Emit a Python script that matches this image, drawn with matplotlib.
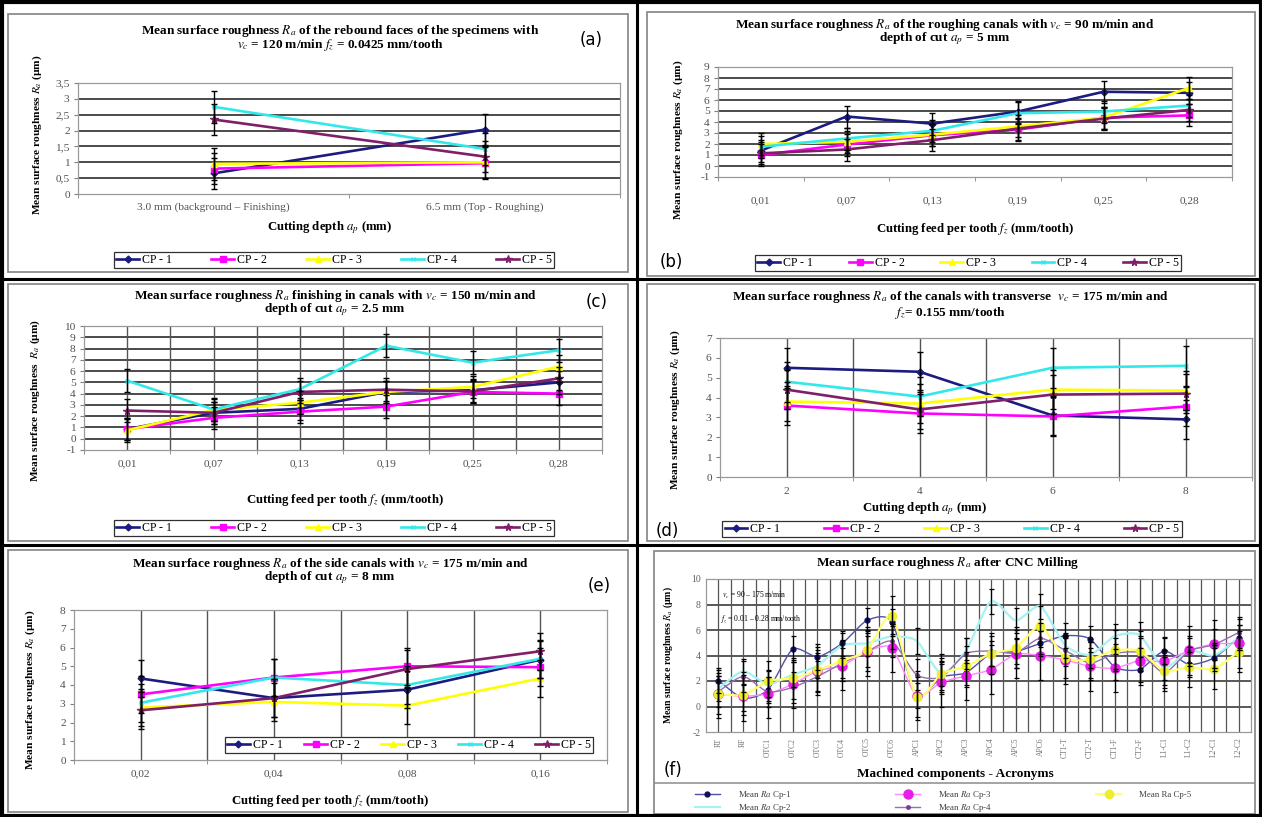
import numpy as np
import matplotlib
matplotlib.use("Agg")
import matplotlib.pyplot as plt
from matplotlib.lines import Line2D
from matplotlib.patches import Rectangle

plt.rcParams['font.family'] = ['Liberation Serif', 'DejaVu Serif']
plt.rcParams['mathtext.fontset'] = 'stix'

# ---------------- DATA ----------------
series_names = ['CP - 1', 'CP - 2', 'CP - 3', 'CP - 4', 'CP - 5']

cats_a = ['3.0 mm (background \u2013 Finishing)', '6.5 mm (Top - Roughing)']
ra_a = [[0.65, 2.03], [0.80, 0.97], [0.95, 1.00], [2.75, 1.42], [2.35, 1.18]]
err_a = [0.5, 0.5, 0.5, 0.5, 0.5]

cats_b = ['0,01', '0,07', '0,13', '0,19', '0,25', '0,28']
ra_b = [[1.40, 4.50, 3.85, 4.95, 6.75, 6.65],
        [1.00, 1.95, 2.80, 3.30, 4.40, 4.60],
        [2.00, 2.20, 2.85, 3.60, 4.40, 7.10],
        [1.75, 2.50, 3.20, 4.80, 4.95, 5.50],
        [1.15, 1.50, 2.35, 3.40, 4.30, 5.10]]
err_b = [1.0, 1.0, 1.0, 1.0, 1.0]

cats_c = ['0,01', '0,07', '0,13', '0,19', '0,25', '0,28']
ra_c = [[0.85, 2.30, 2.65, 4.15, 4.30, 5.00],
        [0.85, 1.85, 2.40, 2.85, 4.15, 4.00],
        [0.75, 2.55, 3.20, 4.15, 4.60, 6.40],
        [5.15, 2.60, 4.40, 8.25, 6.75, 7.85],
        [2.50, 2.30, 4.15, 4.35, 4.20, 5.35]]
err_c = [1.0, 1.0, 1.0, 1.0, 1.0]

cats_d = ['2', '4', '6', '8']
ra_d = [[5.50, 5.30, 3.10, 2.90],
        [3.60, 3.20, 3.05, 3.55],
        [3.80, 3.70, 4.40, 4.35],
        [4.80, 4.05, 5.50, 5.60],
        [4.40, 3.40, 4.15, 4.20]]
err_d = [1.0, 1.0, 1.0, 1.0, 1.0]

cats_e = ['0,02', '0,04', '0,08', '0,16']
ra_e = [[4.35, 3.30, 3.75, 5.35],
        [3.50, 4.40, 5.00, 4.95],
        [2.80, 3.10, 2.90, 4.35],
        [3.05, 4.40, 4.00, 5.40],
        [2.65, 3.30, 4.85, 5.80]]
err_e = [1.0, 1.0, 1.0, 1.0, 1.0]

cats_f = ['RT', 'RF', 'OTC1', 'OTC2', 'OTC3', 'OTC4', 'OTC5', 'OTC6',
          'APC1', 'APC2', 'APC3', 'APC4', 'APC5', 'APC6',
          'CT1-T', 'CT2-T', 'CT1-F', 'CT2-F', 'L1-C1', 'L1-C2', 'L2-C1', 'L2-C2']
f_names = ['Mean $Ra$ Cp-1', 'Mean $Ra$ Cp-2', 'Mean $Ra$ Cp-3', 'Mean $Ra$ Cp-4', 'Mean Ra Cp-5']
f_cp1 = [2.03, 0.65, 1.30, 4.50, 3.90, 4.95, 6.75, 6.65, 0.85, 2.30, 2.65, 4.15, 4.30, 4.95,
         5.55, 5.30, 3.10, 2.90, 4.35, 3.30, 3.80, 5.40]
f_cp2 = [1.42, 2.75, 1.75, 2.50, 3.20, 4.80, 4.95, 5.50, 5.15, 2.60, 4.40, 8.25, 6.75, 7.85,
         4.80, 4.05, 5.50, 5.60, 3.05, 4.40, 4.00, 5.40]
f_cp3 = [0.97, 0.80, 1.00, 1.75, 2.80, 3.20, 4.30, 4.60, 0.85, 1.90, 2.40, 2.90, 4.10, 4.00,
         3.65, 3.15, 3.00, 3.60, 3.55, 4.40, 4.90, 4.95]
f_cp4 = [1.18, 2.35, 1.15, 1.50, 2.35, 3.40, 4.30, 5.10, 2.50, 2.30, 4.15, 4.35, 4.20, 5.35,
         4.40, 3.40, 4.15, 4.20, 2.65, 4.35, 4.85, 5.80]
f_cp5 = [1.00, 0.90, 2.00, 2.20, 2.85, 3.60, 4.40, 7.10, 0.75, 2.55, 3.15, 4.15, 4.60, 6.30,
         3.80, 3.70, 4.40, 4.35, 2.80, 3.10, 2.95, 4.30]
err_f = [1.0, 1.0, 1.9, 1.2, 1.6]

# ---------------- STYLE ----------------
W, H = 1262, 817
fig = plt.figure(figsize=(W / 100, H / 100), dpi=100)
fig.patch.set_facecolor('white')

cols = ['#1c1c80', '#ff00ff', '#ffff00', '#33e8e8', '#7f1f6a']
marks = ['D', 's', '^', 'x', '*']
msz = [3.5, 4.5, 4.5, 3.5, 5.5]
GRID = '#3c3c3c'
VGRID = '#555555'
TICKC = '#505050'
FS = 8.2      # tick labels
TFS = 9.5     # titles
LFS = 9.2     # axis labels
GFS = 8.6     # legend


def fx(x):
    return x / W


def fy(y):
    return 1 - y / H


def add_ax(x0, y0, x1, y1):
    return fig.add_axes([x0 / W, 1 - y1 / H, (x1 - x0) / W, (y1 - y0) / H])


def fline(x0, y0, x1, y1, lw=2.2, color='black'):
    fig.add_artist(Line2D([fx(x0), fx(x1)], [fy(y0), fy(y1)], transform=fig.transFigure,
                          color=color, lw=lw, solid_capstyle='butt'))


def fbox(x0, y0, x1, y1, color='#8c8c8c', lw=1.3):
    fig.add_artist(Rectangle((fx(x0), fy(y1)), (x1 - x0) / W, (y1 - y0) / H,
                             transform=fig.transFigure, fill=False, edgecolor=color, lw=lw))


def ftext(x, y, s, size=FS, bold=False, rot=0, ha='center', va='center', family=None, color='black'):
    kw = dict(fontsize=size, fontweight='bold' if bold else 'normal', rotation=rot,
              ha=ha, va=va, color=color)
    if family:
        kw['family'] = family
    fig.text(fx(x), fy(y), s, **kw)


def fmt(v):
    return ('%g' % v).replace('.', ',')


def panel(box, cats, data, errs, ylim, ystep, hgrid, vgrid, pad, legend_xy, colsp):
    ax = add_ax(*box)
    n = len(cats)
    x = np.arange(n)
    ax.set_xlim(-0.5, n - 0.5)
    ax.set_ylim(*ylim)
    yt = np.arange(ylim[0], ylim[1] + 1e-9, ystep)
    ax.set_yticks(yt)
    ax.set_yticklabels([fmt(v) for v in yt])
    ax.set_xticks(x)
    ax.set_xticklabels(cats)
    ax.set_xticks(np.arange(-0.5, n, 1.0), minor=True)
    ax.tick_params(axis='x', which='major', length=0, pad=pad, labelsize=FS, colors=TICKC)
    ax.tick_params(axis='x', which='minor', length=3, color='#808080', direction='out')
    ax.tick_params(axis='y', length=3, color='#808080', labelsize=FS, colors=TICKC, pad=3)
    for sp in ax.spines.values():
        sp.set_color('#9a9a9a')
        sp.set_linewidth(0.9)
    if hgrid:
        for v in yt[1:-1]:
            ax.axhline(v, color=GRID, lw=1.3, zorder=0.5)
    if vgrid:
        for v in np.arange(-0.5, n, 0.5)[1:-1]:
            ax.axvline(v, color=VGRID, lw=1.0, zorder=0.5)
    handles = []
    for i in range(5):
        h, = ax.plot(x, data[i], color=cols[i], lw=1.9, marker=marks[i], ms=msz[i],
                     mec=cols[i], mfc=cols[i], zorder=3, label=series_names[i])
        handles.append(h)
    for i in range(5):
        ax.errorbar(x, data[i], yerr=errs[i], fmt='none', ecolor='black', elinewidth=1.0,
                    capsize=2.3, capthick=1.0, zorder=4)
    lx, ly = legend_xy
    leg = fig.legend(handles=handles, loc='center', bbox_to_anchor=(fx(lx), fy(ly)),
                     ncol=5, frameon=True, fancybox=False, edgecolor='#303030',
                     fontsize=GFS, handlelength=1.9, handletextpad=0.25,
                     columnspacing=colsp, borderpad=0.2, framealpha=1)
    leg.get_frame().set_linewidth(0.9)
    return ax


# ---------------- FRAME ----------------
fline(0, 1.5, W, 1.5, lw=3)
fline(0, H - 1.5, W, H - 1.5, lw=3)
fline(1.5, 0, 1.5, H, lw=3)
fline(W - 1.5, 0, W - 1.5, H, lw=3)
fline(637, 0, 637, H, lw=2.2)
fline(0, 279, W, 279, lw=2.2)
fline(0, 545, W, 545, lw=2.2)

fbox(8, 14, 628, 272)
fbox(647, 12, 1255, 276)
fbox(8, 284, 628, 541)
fbox(647, 284, 1255, 541)
fbox(8, 550, 628, 812)
fbox(654, 551, 1255, 814)

# ---------------- PANEL (a) ----------------
panel((78, 83, 620, 194), cats_a, ra_a, err_a, (0, 3.5), 0.5, True, False, 6, (334, 260), 3.3)
ftext(340, 31, 'Mean surface roughness $R_a$ of the rebound faces of the specimens with', size=TFS, bold=True)
ftext(340, 45, '$v_c$ = 120 m/min $f_z$ = 0.0425 mm/tooth', size=TFS, bold=True)
ftext(591, 40, '(a)', size=12, family='DejaVu Sans')
ftext(37, 135, 'Mean surface roughness $R_a$ (\u00b5m)', size=8.2, bold=True, rot=90)
ftext(330, 228, 'Cutting depth $a_p$ (mm)', size=LFS, bold=True)

# ---------------- PANEL (b) ----------------
panel((718, 67, 1232, 177), cats_b, ra_b, err_b, (-1, 9), 1, True, False, 14, (968, 263), 3.0)
ftext(945, 25, 'Mean surface roughness $R_a$ of the roughing canals with $v_c$ = 90 m/min and', size=TFS, bold=True)
ftext(945, 39, 'depth of cut $a_p$ = 5 mm', size=TFS, bold=True)
ftext(671, 262, '(b)', size=12, family='DejaVu Sans')
ftext(678, 140, 'Mean surface roughness $R_a$ (\u00b5m)', size=8.2, bold=True, rot=90)
ftext(975, 229, 'Cutting feed per tooth $f_z$ (mm/tooth)', size=LFS, bold=True)

# ---------------- PANEL (c) ----------------
panel((84, 326, 602, 450), cats_c, ra_c, err_c, (-1, 10), 1, True, True, 7, (334, 528), 3.3)
ftext(335, 296, 'Mean surface roughness $R_a$ finishing in canals with $v_c$ = 150 m/min and', size=TFS, bold=True)
ftext(335, 310, 'depth of cut $a_p$ = 2.5 mm', size=TFS, bold=True)
ftext(597, 302, '(c)', size=12, family='DejaVu Sans')
ftext(35, 400, 'Mean surface roughness  $R_a$ (\u00b5m)', size=8.2, bold=True, rot=90)
ftext(345, 500, 'Cutting feed per tooth $f_z$ (mm/tooth)', size=LFS, bold=True)

# ---------------- PANEL (d) ----------------
panel((720, 338, 1252, 477), cats_d, ra_d, err_d, (0, 7), 1, False, True, 7, (952, 529), 3.7)
ftext(950, 297, 'Mean surface roughness $R_a$ of the canals with transverse  $v_c$ = 175 m/min and', size=TFS, bold=True)
ftext(950, 313, '$f_z$= 0.155 mm/tooth', size=TFS, bold=True)
ftext(667, 531, '(d)', size=12, family='DejaVu Sans')
ftext(675, 410, 'Mean surface roughness $R_a$ (\u00b5m)', size=8.2, bold=True, rot=90)
ftext(925, 509, 'Cutting depth $a_p$ (mm)', size=LFS, bold=True)

# ---------------- PANEL (e) ----------------
panel((74, 610, 607, 760), cats_e, ra_e, err_e, (0, 8), 1, False, True, 7, (409, 745), 1.8)
ftext(330, 564, 'Mean surface roughness $R_a$ of the side canals with $v_c$ = 175 m/min and', size=TFS, bold=True)
ftext(330, 578, 'depth of cut $a_p$ = 8 mm', size=TFS, bold=True)
ftext(599, 586, '(e)', size=12, family='DejaVu Sans')
ftext(30, 690, 'Mean surface roughness $R_a$ (\u00b5m)', size=8.2, bold=True, rot=90)
ftext(330, 801, 'Cutting feed per tooth $f_z$ (mm/tooth)', size=LFS, bold=True)


# ---------------- PANEL (f) ----------------
def smooth(xv, yv, k=12, s=0.7):
    xv = np.asarray(xv, float)
    yv = np.asarray(yv, float)
    px = np.concatenate([[2 * xv[0] - xv[1]], xv, [2 * xv[-1] - xv[-2]]])
    py = np.concatenate([[2 * yv[0] - yv[1]], yv, [2 * yv[-1] - yv[-2]]])
    t = np.linspace(0, 1, k, endpoint=False)
    h00 = 2 * t ** 3 - 3 * t ** 2 + 1
    h10 = t ** 3 - 2 * t ** 2 + t
    h01 = -2 * t ** 3 + 3 * t ** 2
    h11 = t ** 3 - t ** 2
    ox, oy = [], []
    for i in range(1, len(px) - 2):
        for p, o in ((px, ox), (py, oy)):
            p0, p1, p2, p3 = p[i - 1], p[i], p[i + 1], p[i + 2]
            m1 = s * (p2 - p0) / 2
            m2 = s * (p3 - p1) / 2
            o.extend(h00 * p1 + h10 * m1 + h01 * p2 + h11 * m2)
    ox.append(xv[-1])
    oy.append(yv[-1])
    return np.array(ox), np.array(oy)


axf = add_ax(706, 579, 1251, 732)
nf = len(cats_f)
xf = np.arange(nf)
axf.set_xlim(-0.5, nf - 0.5)
axf.set_ylim(-2, 10)
ytf = np.arange(-2, 10.1, 2)
axf.set_yticks(ytf)
axf.set_yticklabels(['%d' % v for v in ytf])
axf.set_xticks(xf)
axf.set_xticklabels(cats_f, rotation=90)
axf.tick_params(axis='x', length=0, pad=4, labelsize=5.5, colors='#707070')
axf.tick_params(axis='y', length=0, labelsize=7, colors='#606060', pad=4)
for sp in axf.spines.values():
    sp.set_color('#9a9a9a')
    sp.set_linewidth(0.9)
for v in ytf[1:-1]:
    axf.axhline(v, color=GRID, lw=1.2, zorder=0.5)
for v in np.arange(-0.5, nf, 0.5)[1:-1]:
    axf.axvline(v, color=VGRID, lw=0.9, zorder=0.5)

f_series = [f_cp1, f_cp2, f_cp3, f_cp4, f_cp5]
f_line = ['#5050aa', '#a6f2f2', '#ff88ff', '#9470ac', '#ffff70']
f_mark = ['#101060', '#a6f2f2', '#e81ee8', '#7a3f90', '#eeee30']
f_ms = [3.5, 0, 6.5, 2.5, 6.0]
f_lw = [1.0, 1.6, 1.0, 1.0, 1.6]
fh = []
for i in range(5):
    sx, sy = smooth(xf, f_series[i])
    axf.plot(sx, sy, color=f_line[i], lw=f_lw[i], zorder=3)
    axf.plot(xf, f_series[i], ls='none', marker='o', ms=f_ms[i], mfc=f_mark[i], mec=f_mark[i], zorder=3.5)
    fh.append(Line2D([], [], color=f_line[i], lw=f_lw[i], marker='o', ms=f_ms[i],
                     mfc=f_mark[i], mec=f_mark[i], label=f_names[i]))
for i in range(5):
    axf.errorbar(xf, f_series[i], yerr=err_f[i], fmt='none', ecolor='black', elinewidth=0.9,
                 capsize=1.8, capthick=0.9, zorder=4)

axf.text(0.03, 0.89, '$v_c$ = 90 \u2013 175 m/min', transform=axf.transAxes, fontsize=5.5, ha='left', va='center')
axf.text(0.025, 0.74, '$f_z$ = 0.01 \u2013 0.28 mm/tooth', transform=axf.transAxes, fontsize=5.5, ha='left', va='center')

ftext(948, 563, 'Mean surface roughness $R_a$ after CNC Milling', size=TFS, bold=True)
ftext(668, 655, 'Mean surface roughness $R_a$ (\u00b5m)', bold=True, rot=90, size=7)
ftext(955, 774, 'Machined components - Acronyms', size=TFS, bold=True)
ftext(673, 770, '(f)', size=12, family='DejaVu Sans')
fline(654, 783, 1255, 783, lw=1.1, color='#8c8c8c')

legf = fig.legend(handles=fh, loc='upper left', bbox_to_anchor=(fx(690), fy(784.5)), ncol=3,
                  frameon=False, fontsize=6.4, handlelength=2.8, handletextpad=2.0,
                  columnspacing=11.7, labelspacing=0.1, borderpad=0.05)
for t in legf.get_texts():
    t.set_color('#404040')

fig.savefig('out.png', dpi=100)
